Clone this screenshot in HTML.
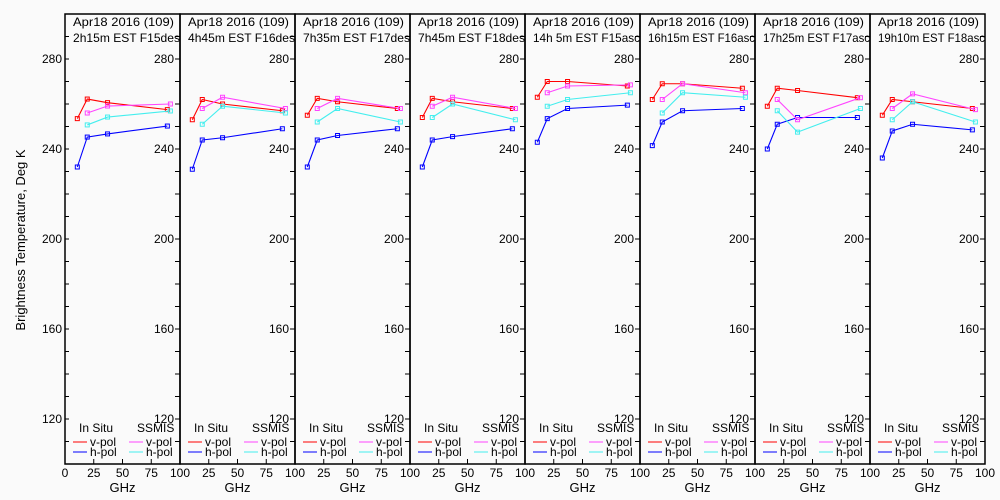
<!DOCTYPE html>
<html><head><meta charset="utf-8"><style>
body{margin:0;background:#fafafa;}
svg{display:block;font-family:"Liberation Sans",sans-serif;}
</style></head><body>
<svg id="c" width="1000" height="500"></svg>
<script>
const titles1 = ["Apr18 2016 (109)","Apr18 2016 (109)","Apr18 2016 (109)","Apr18 2016 (109)","Apr18 2016 (109)","Apr18 2016 (109)","Apr18 2016 (109)","Apr18 2016 (109)"];
const titles2 = ["2h15m EST F15des","4h45m EST F16des","7h35m EST F17des","7h45m EST F18des","14h 5m EST F15asc","16h15m EST F16asc","17h25m EST F17asc","19h10m EST F18asc"];
const insituFreq = [10.7, 19.35, 37, 89];
const ssmisFreq = [19.35, 37, 91.65];
const redV = [[253.5,262.2,260.6,257.5],[253,262,260,257],[255,262.5,261,258],[254,262.5,261,258],[263,270,270,268],[262,269,269,267],[259,267,266,262.8],[255,262,261,258]];
const blueH = [[232,245.3,246.7,250.2],[231,244,245,249],[232,244,246,249],[232,244,245.5,249],[243,253.5,258,259.5],[241.5,252,257,258],[240,251,254,254],[236,248,251,248.5]];
const magV = [[256,259.1,260],[258,263,258],[258,262.5,258],[259,263,258],[265,268,268.5],[262,269,265],[262,253,262.8],[258,264.5,257.5]];
const cyanH = [[250.7,254.2,256.9],[251,259,256],[252,258,252],[254,260,253],[259,262,265],[256,265,263],[257,247.5,258],[253,261,252]];
const yTicks = [120,160,200,240,280];
const xTicks = [0,25,50,75,100];

const svg = document.getElementById('c');
const NS = "http://www.w3.org/2000/svg";
function mk(tag, at, txt){const e=document.createElementNS(NS,tag);for(const k in at)e.setAttribute(k,at[k]);if(txt!==undefined)e.textContent=txt;svg.appendChild(e);return e;}
const L0=65, PW=115, TOP=14, BOT=464;
const yS = v => 59 + (280 - v) * 2.25;
const xS = (p, f) => L0 + p*PW + f/100*PW;

let t = mk('text',{x:25,y:240,'font-size':13,'text-anchor':'middle',transform:'rotate(-90 25 240)'},'Brightness Temperature, Deg K');



for(let p=0;p<8;p++){
  const x0=L0+p*PW, x1=x0+PW;
  let r=mk('rect',{x:x0,y:TOP,width:PW,height:BOT-TOP,fill:'none',stroke:'#000','stroke-width':1.5});
  
  
  for(let v=100;v<=300;v+=10){
    const y=yS(v);
    mk('line',{x1:x1-5,y1:y,x2:x1,y2:y,stroke:'#000'});
    if(p===0) mk('line',{x1:x0,y1:y,x2:x0+4,y2:y,stroke:'#000'});
  }
  yTicks.forEach(v=>{
    let e=mk('text',{x:x1-6,y:yS(v)+4,'font-size':12,'text-anchor':'end'},String(v));
    
    
    if(p===0){
      let e2=mk('text',{x:x0-3,y:yS(v)+4,'font-size':12,'text-anchor':'end'},String(v));
      
      
    }
  });
  xTicks.forEach((v,i)=>{
    if(p>0 && i===0) return;
    const x=xS(p,v);
    mk('line',{x1:x,y1:BOT,x2:x,y2:BOT-5,stroke:'#000'});
    let e=mk('text',{x:x,y:477,'font-size':12,'text-anchor':'middle'},String(v));
    
    
  });
  let xt=mk('text',{x:x0+PW/2,y:492,'font-size':13,'text-anchor':'middle'},'GHz');
  
  
  let a=mk('text',{x:x0+8,y:26,'font-size':12,textLength:PW-14,lengthAdjust:'spacingAndGlyphs'},titles1[p]);
  
  
  let b=mk('text',{x:x0+8,y:42,'font-size':12,textLength:PW-8,lengthAdjust:'spacingAndGlyphs'},titles2[p]);
  
  
  let g1=mk('text',{x:x0+14,y:432,'font-size':12},'In Situ');
  
  
  let g2=mk('text',{x:x0+72,y:432,'font-size':12},'SSMIS');
  
  
  [['#f00','v-pol',442,x0+8],['#00f','h-pol',452,x0+8],['#f4f','v-pol',442,x0+64],['#4ee','h-pol',452,x0+64]].forEach(d=>{
    mk('line',{x1:d[3],y1:d[2],x2:d[3]+14,y2:d[2],stroke:d[0]});
    let e=mk('text',{x:d[3]+17,y:d[2]+4,'font-size':12},d[1]);
    
    
  });
  [[insituFreq,redV[p],'#f00','insitu-vpol'],[insituFreq,blueH[p],'#00f','insitu-hpol'],[ssmisFreq,magV[p],'#f4f','ssmis-vpol'],[ssmisFreq,cyanH[p],'#4ee','ssmis-hpol']].forEach(s=>{
    const pts=s[1].map((v,i)=>xS(p,s[0][i])+','+yS(v)).join(' ');
    let pl=mk('polyline',{points:pts,fill:'none',stroke:s[2],'stroke-width':1.1});
    
    
    s[1].forEach((v,i)=>{
      let m=mk('rect',{x:xS(p,s[0][i])-2,y:yS(v)-2,width:4,height:4,fill:'none',stroke:s[2]});
      
      
    });
  });
}
</script>
</body></html>
